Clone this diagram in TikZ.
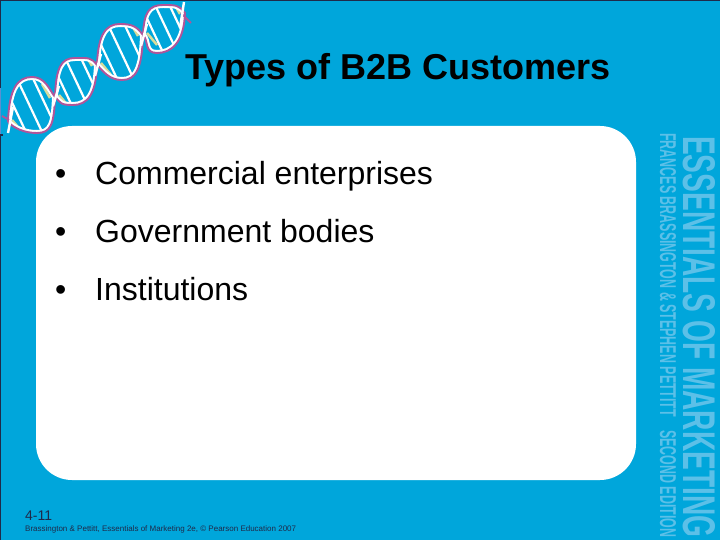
\documentclass[tikz,border=0pt]{standalone}
\usepackage{fontspec}
\setmainfont{Liberation Sans}
\definecolor{slideblue}{HTML}{00A6DB}
\definecolor{spineblue}{HTML}{5CC0E8}
\definecolor{edgenavy}{HTML}{1F2A4A}
\definecolor{edgeblue}{HTML}{5B8FD0}
\definecolor{helixpink}{HTML}{B0559A}
\definecolor{helixlime}{HTML}{D8DC9A}
\newcommand{\sizedfont}[1]{\fontsize{#1}{#1}\selectfont}
\tikzset{
    titletext/.style={inner sep=0pt, anchor=base west, font=\sizedfont{36}\bfseries},
    bullettext/.style={inner sep=0pt, anchor=base west, font=\sizedfont{32}},
    spinetext/.style={inner sep=0pt, anchor=base west, text=spineblue, rotate=-90, font=\bfseries},
    footertext/.style={inner sep=0pt, anchor=base west, text=edgenavy}
}
% top strand of a lobe, then back along its bottom strand
\newcommand{\lobecurve}{(\px,\py) .. controls ({\px+1},{\py+0.75*(\ty-\py)}) and ({\tx-14},\ty) .. (\tx,\ty)
    .. controls ({\tx+13},\ty) and ({\qx-6},{\qy-8}) .. (\qx,\qy)
    .. controls ({\qx-1},{\qy+0.75*(\by-\qy)}) and ({\bx+14},\by) .. (\bx,\by)
    .. controls ({\bx-13},\by) and ({\px+6},{\py+6}) .. (\px,\py)}
\begin{document}
\begin{tikzpicture}[x=1pt,y=-1pt]
    \useasboundingbox (0,0) rectangle (720,540);
    \fill[slideblue] (0,0) rectangle (720,540);
    \draw[edgenavy,line width=1.5pt] (0,88) -- (0,0) -- (720,0);
    \draw[edgeblue,line width=1.5pt] (0,88) -- (0,135);
    \draw[edgenavy,line width=1.5pt] (3,135) -- (0,135) -- (0,540);
    % white panel
    \fill[white,rounded corners=36pt] (36,126) rectangle (636,480);
    % helix: one lobe is left end, top, right end, bottom
    \foreach \px/\py/\tx/\ty/\qx/\qy/\bx/\by in {
        8/122/32/77/55/97/37/133,
        55/97/75/58/97/65/73/105,
        97/65/120/24/143/35/122/80,
        143/35/163/5/185/13/157/53}{
        \begin{scope}
            \clip \lobecurve;
            \foreach \sa in {-0.55,0,0.55}{
                \draw[white,line width=2.2pt]
                    ({(\px+\qx)/2+\sa*(\qx-\px)/2-17},{(\py+\qy)/2+\sa*(\qy-\py)/2-36}) --
                    ({(\px+\qx)/2+\sa*(\qx-\px)/2+17},{(\py+\qy)/2+\sa*(\qy-\py)/2+36});
            }
            \draw[helixlime,line width=2.5pt] ({\qx-13},{\qy-13}) -- ({\qx-5},{\qy+1});
            \draw[helixlime,line width=2.5pt] ({\px+4},{\py-2}) -- ({\px+14},{\py+10});
            \draw[white,line width=6pt] \lobecurve;
        \end{scope}
        \draw[helixpink,line width=1.9pt] \lobecurve;
    }
    \coordinate (lowtip) at (8,133);
    \coordinate (lowend) at (2,116);
    \coordinate (hightip) at (184,2);
    \coordinate (highend) at (191,23);
    \draw[helixpink,line width=1.8pt] (lowend) -- (11,121);
    \draw[helixpink,line width=1.8pt] (highend) -- (181,13);
    \draw[white,line width=2.4pt] (lowtip) -- (13,107);
    \draw[white,line width=2.4pt] (hightip) -- (180,28);
    \draw[white,line width=2.4pt] (53,106) -- (59,86);
    \draw[white,line width=2.4pt] (95,76) -- (101,54);
    \draw[white,line width=2.4pt] (141,46) -- (147,24);
    % title
    \node[titletext] (title) at (185,80) {Types of B2B Customers};
    % bullets
    \node[bullettext] (bulleta) at (55,185) {•};
    \node[bullettext] (texta) at (95,185) {Commercial enterprises};
    \node[bullettext] (bulletb) at (55,242) {•};
    \node[bullettext] (textb) at (95,242) {Government bodies};
    \node[bullettext] (bulletc) at (55,300) {•};
    \node[bullettext] (textc) at (95,300) {Institutions};
    % footer
    \node[footertext,font=\sizedfont{14}] (pagenum) at (25,520) {4-11};
    \node[footertext,font=\sizedfont{8}] (credit) at (25,531) {Brassington \& Pettitt, Essentials of Marketing 2e, © Pearson Education 2007};
    % spine
    \node[spinetext] (spinemain) at (683,136) {\resizebox{401pt}{32pt}{ESSENTIALS OF MARKETING}};
    \node[spinetext] (spinesub) at (660,133) {\resizebox{284pt}{16pt}{FRANCES BRASSINGTON \& STEPHEN PETTITT}};
    \node[spinetext] (spineedition) at (660,430) {\resizebox{107pt}{16pt}{SECOND EDITION}};
\end{tikzpicture}
\end{document}
